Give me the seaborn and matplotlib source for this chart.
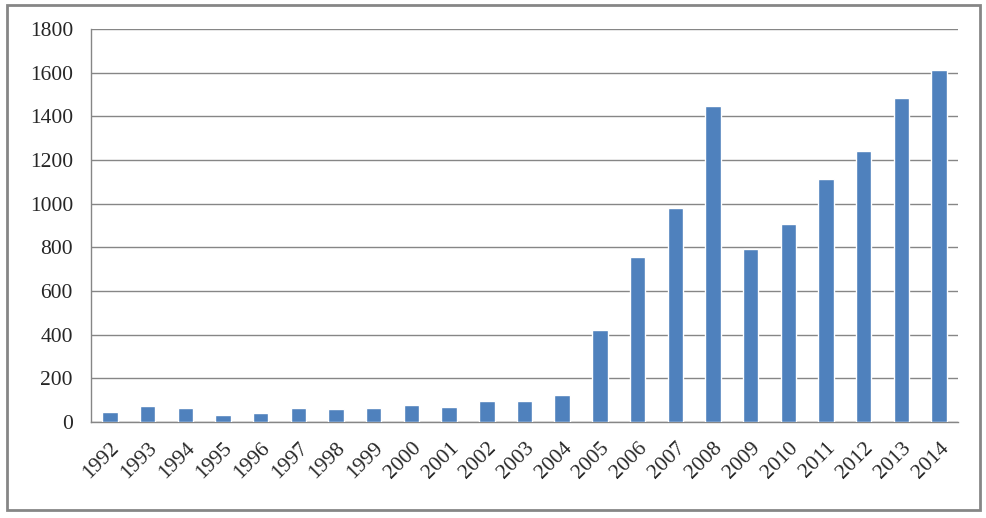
import matplotlib
matplotlib.use("Agg")
import matplotlib.pyplot as plt
import seaborn as sns
import pandas as pd
import numpy as np
from matplotlib.patches import Rectangle

years = [str(y) for y in range(1992, 2015)]
values = [47, 74, 65, 33, 42, 65, 60, 65, 79, 70, 97, 97, 124,
          423, 757, 981, 1449, 794, 908, 1115, 1243, 1486, 1614]
yticks = [0, 200, 400, 600, 800, 1000, 1200, 1400, 1600, 1800]

df = pd.DataFrame({"year": years, "value": values})

sns.set_style("white")
plt.rcParams['font.family'] = ['Liberation Serif', 'DejaVu Serif']

fig = plt.figure(figsize=(9.87, 5.18), dpi=100)
ax = fig.add_axes([0.0922, 0.1853, 0.8784, 0.7587])

sns.barplot(data=df, x="year", y="value", color="#4F81BD", width=0.41,
            saturation=1, ax=ax, zorder=3)

ax.set_ylim(0, 1800)
ax.set_xlim(-0.5, len(years) - 0.5)
ax.set_yticks(yticks)
ax.set_yticklabels([str(t) for t in yticks], fontsize=15.5)
ax.yaxis.grid(True, color="#868686", linewidth=1)
ax.set_axisbelow(True)

ax.set_xticks(range(len(years)))
ax.set_xticklabels(years, rotation=45, ha="right", rotation_mode="anchor", fontsize=15.5)
ax.tick_params(axis="x", which="major", length=0, pad=12)
ax.set_xticks(np.arange(-0.5, len(years), 1.0), minor=True)
ax.tick_params(axis="x", which="minor", length=6, color="#868686", width=1)
ax.tick_params(axis="y", length=5, color="#868686", width=1, pad=8)

ax.set_xlabel("")
ax.set_ylabel("")
for s in ["top", "right"]:
    ax.spines[s].set_visible(False)
for s in ["left", "bottom"]:
    ax.spines[s].set_color("#868686")
    ax.spines[s].set_linewidth(1)

fig.patches.append(Rectangle((7/987, 1 - 510/518), (980-7)/987, (510-5)/518,
                             transform=fig.transFigure, fill=False,
                             edgecolor="#868686", linewidth=2))

fig.savefig("out.png", dpi=100)
